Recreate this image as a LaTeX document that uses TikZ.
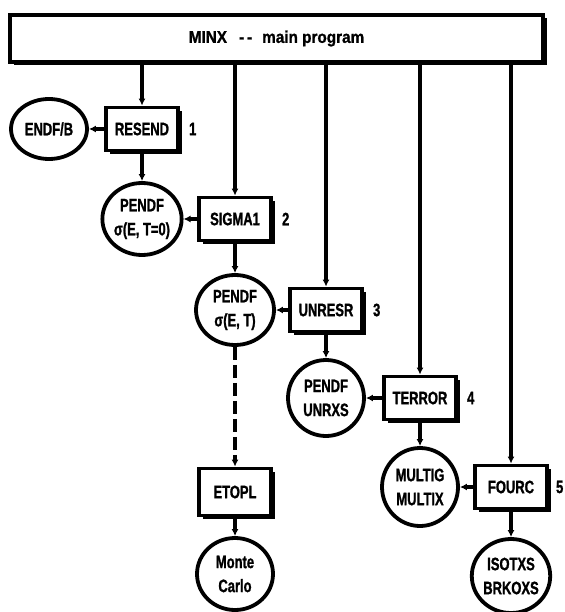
\documentclass[tikz,border=0pt]{standalone}
\usepackage{fontspec}
\newfontfamily\lblfont{Liberation Sans}[FakeStretch=0.72,BoldFeatures={FakeBold=1.2}]
\newfontfamily\topfont{Liberation Sans}[FakeStretch=0.9,BoldFeatures={FakeBold=1.2}]
\usetikzlibrary{arrows.meta,shadows,shapes.geometric}
\begin{document}
\begin{tikzpicture}[x=1pt,y=-1pt,
  lbl/.style={font=\lblfont\bfseries\fontsize{18}{24}\selectfont},
  prog/.style={lbl, draw, line width=3.8pt, fill=white, minimum width=72pt, minimum height=43pt, inner sep=0pt,
    drop shadow={shadow xshift=3.5pt, shadow yshift=-3.5pt, fill=black, opacity=1}},
  data/.style={lbl, draw, ellipse, line width=3.8pt, fill=white, inner sep=0pt, align=center},
  flow/.style={line width=3.2pt, -{Latex[length=7pt,width=7pt]}},
  num/.style={lbl, anchor=west, inner sep=0pt}]
\useasboundingbox (0,0) rectangle (564,612);

% main program bar
\node[prog, minimum width=533pt, minimum height=47pt,
      font=\topfont\bfseries\fontsize{17}{20}\selectfont] (top) at (276.5,38.5)
  {MINX\hspace{12pt}-\hspace{3pt}-\hspace{10pt}main program};

% program modules
\node[prog] (resend) at (142,129) {RESEND};
\node[prog] (sigma)  at (235,219) {SIGMA1};
\node[prog] (unresr) at (326,310) {UNRESR};
\node[prog] (terror) at (420,398) {TERROR};
\node[prog] (fourc)  at (511,487) {FOURC};
\node[prog, minimum height=47pt] (etopl) at (235,492) {ETOPL};

% numbers
\node[num] (n1) at ([xshift=9pt]resend.east) {1};
\node[num] (n2) at ([xshift=9pt]sigma.east) {2};
\node[num] (n3) at ([xshift=9pt]unresr.east) {3};
\node[num] (n4) at ([xshift=9pt]terror.east) {4};
\node[num] (n5) at ([xshift=7pt]fourc.east) {5};

% data files
\node[data, minimum width=76pt, minimum height=60pt] (endfb) at (49,129) {ENDF/B};
\node[data, minimum width=77pt, minimum height=72pt] (pendf1) at (142,219) {PENDF\\σ(E, T=0)};
\node[data, minimum width=78pt, minimum height=70pt] (pendf2) at (235,310) {PENDF\\σ(E, T)};
\node[data, minimum width=76pt, minimum height=76pt] (pendf3) at (326,398) {PENDF\\UNRXS};
\node[data, minimum width=76pt, minimum height=78pt] (multig) at (420,487) {MULTIG\\MULTIX};
\node[data, minimum width=76pt, minimum height=72pt] (mc) at (235,574) {Monte\\Carlo};
\node[data, minimum width=78pt, minimum height=74pt] (isotxs) at (511,576) {ISOTXS\\BRKOXS};

% calls from main program
\draw[flow] (resend |- top.south) -- (resend);
\draw[flow] (sigma |- top.south) -- (sigma);
\draw[flow] (unresr |- top.south) -- (unresr);
\draw[flow] (terror |- top.south) -- (terror);
\draw[flow] (fourc |- top.south) -- (fourc);

% module outputs
\draw[flow] (resend) -- (endfb);
\draw[flow] (resend) -- (pendf1);
\draw[flow] (sigma) -- (pendf1);
\draw[flow] (sigma) -- (pendf2);
\draw[flow] (unresr) -- (pendf2);
\draw[flow] (unresr) -- (pendf3);
\draw[flow] (terror) -- (pendf3);
\draw[flow] (terror) -- (multig);
\draw[flow] (fourc) -- (multig);
\draw[flow] (fourc) -- (isotxs);
\draw[flow, dash pattern=on 13pt off 5pt] (pendf2) -- (etopl);
\draw[flow] (etopl) -- (mc);
\end{tikzpicture}
\end{document}
